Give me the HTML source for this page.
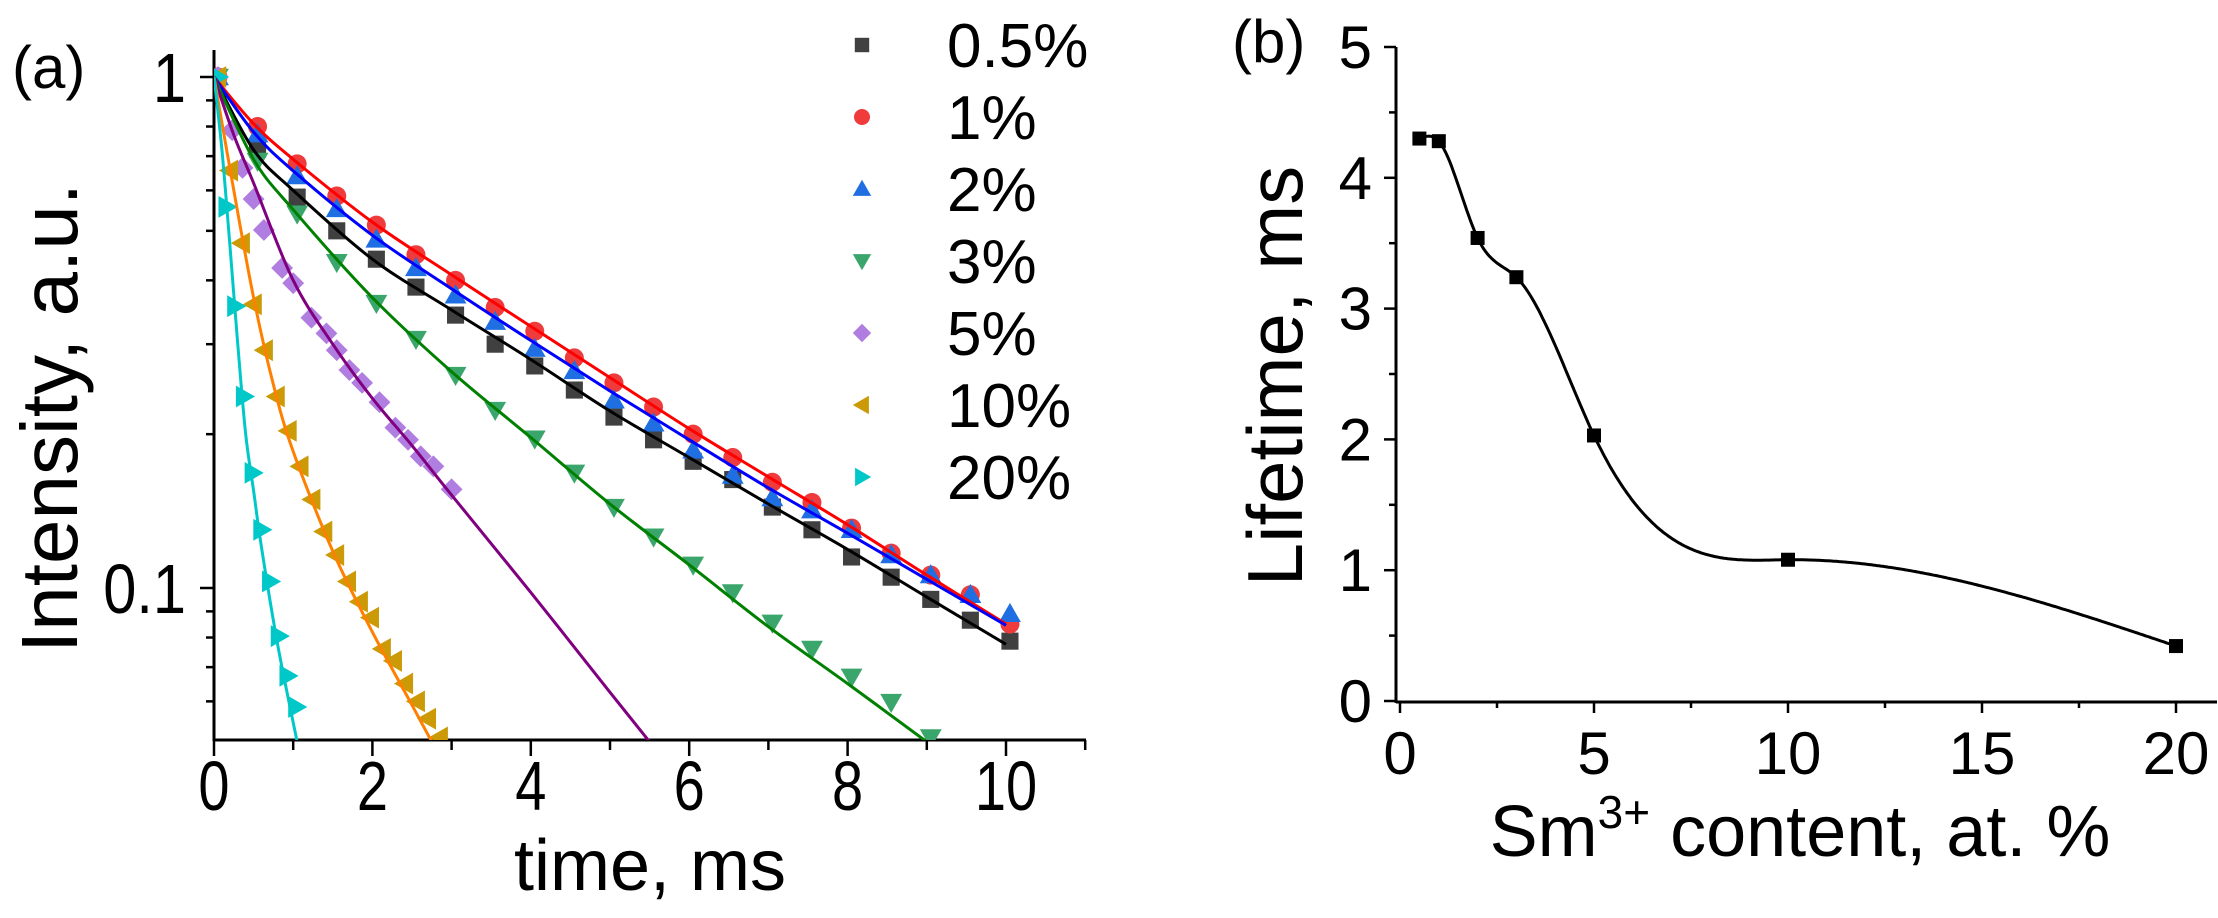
<!DOCTYPE html>
<html><head><meta charset="utf-8"><style>
html,body{margin:0;padding:0;background:#fff;}
svg{display:block;font-family:"Liberation Sans",Arial,sans-serif;}
</style></head><body>
<svg id="fig" width="2218" height="918" viewBox="0 0 2218 918">
<defs><clipPath id="clipA"><rect x="214" y="30" width="880" height="710"/></clipPath></defs>
<g id="panelA"></g>
<g id="panelB"></g>
</svg>
<script>
// ---------- Panel (a) data ----------
const seriesLabels = ["0.5%","1%","2%","3%","5%","10%","20%"];
const t05 = [0.05,0.55,1.05,1.55,2.05,2.55,3.05,3.55,4.05,4.55,5.05,5.55,6.05,6.55,7.05,7.55,8.05,8.55,9.05,9.55,10.05];
const v05 = [1.0,0.723,0.582,0.50,0.44,0.388,0.342,0.30,0.272,0.244,0.216,0.195,0.177,0.163,0.144,0.130,0.115,0.105,0.095,0.0865,0.0787];
const t1 = [0.05,0.55,1.05,1.55,2.05,2.55,3.05,3.55,4.05,4.55,5.05,5.55,6.05,6.55,7.05,7.55,8.05,8.55,9.05,9.55,10.05];
const v1 = [1.0,0.80,0.676,0.585,0.513,0.449,0.40,0.354,0.318,0.282,0.252,0.226,0.20,0.18,0.161,0.147,0.131,0.117,0.106,0.097,0.085];
const t2 = [0.05,0.55,1.05,1.55,2.05,2.55,3.05,3.55,4.05,4.55,5.05,5.55,6.05,6.55,7.05,7.55,8.05,8.55,9.05,9.55,10.05];
const v2 = [1.0,0.773,0.64,0.552,0.481,0.423,0.374,0.332,0.294,0.266,0.233,0.21,0.186,0.166,0.15,0.142,0.13,0.116,0.106,0.097,0.089];
const t3 = [0.05,0.55,1.05,1.55,2.05,2.55,3.05,3.55,4.05,4.55,5.05,5.55,6.05,6.55,7.05,7.55,8.05,8.55,9.05];
const v3 = [1.0,0.685,0.54,0.434,0.361,0.307,0.261,0.223,0.196,0.168,0.144,0.126,0.111,0.098,0.0855,0.076,0.067,0.0598,0.051];
const t5 = [0.05,0.23,0.36,0.5,0.63,0.86,1.0,1.23,1.42,1.55,1.71,1.87,2.09,2.29,2.45,2.61,2.77,3.0];
const v5 = [1.0,0.787,0.664,0.577,0.502,0.423,0.395,0.338,0.315,0.292,0.267,0.252,0.231,0.206,0.195,0.181,0.173,0.156];
const t10 = [0.05,0.2,0.35,0.5,0.64,0.79,0.94,1.09,1.24,1.39,1.54,1.69,1.84,1.98,2.13,2.27,2.41,2.56,2.70,2.85];
const v10 = [1.0,0.656,0.473,0.359,0.292,0.237,0.203,0.173,0.149,0.129,0.116,0.103,0.094,0.0875,0.076,0.072,0.065,0.060,0.0555,0.051];
const t20 = [0.05,0.16,0.27,0.38,0.49,0.6,0.71,0.82,0.93,1.04];
const v20 = [1.0,0.557,0.356,0.237,0.168,0.13,0.103,0.0805,0.0673,0.0585];
// fit curves
const ft05 = [0,0.5,1,2,3,4,5,6,7,8,9,10];
const fv05 = [1,0.72,0.6,0.44,0.35,0.28,0.222,0.18,0.146,0.119,0.096,0.0776];
const ft1 = [0,0.5,1,2,3,4,5,6,7,8,9,10];
const fv1 = [1,0.81,0.69,0.52,0.41,0.325,0.258,0.205,0.165,0.133,0.106,0.085];
const ft2 = [0,0.5,1,2,3,4,5,6,7,8,9,10];
const fv2 = [1,0.78,0.655,0.49,0.385,0.305,0.243,0.195,0.157,0.128,0.104,0.0845];
const ft3 = [0,0.5,1,2,3,4,5,6,7,8,9];
const fv3 = [1,0.69,0.55,0.37,0.265,0.197,0.146,0.111,0.084,0.065,0.05];
const ft5 = [0,0.25,0.5,1,1.5,2,2.5,3,4,5,5.5];
const fv5 = [1,0.77,0.62,0.4,0.3,0.235,0.19,0.152,0.098,0.0625,0.05];
const ft10 = [0,0.25,0.5,0.75,1,1.5,2,2.5,2.75];
const fv10 = [1,0.6,0.37,0.25,0.185,0.118,0.082,0.059,0.05];
const ft20 = [0,0.1,0.2,0.3,0.4,0.5,0.6,0.8,1.05];
const fv20 = [1,0.72,0.47,0.3,0.2,0.155,0.12,0.078,0.05];
const xTicksA = [0,2,4,6,8,10];
// ---------- Panel (b) data ----------
const contentX = [0.5,1,2,3,5,10,20];
const lifetimeY = [4.3,4.28,3.54,3.24,2.03,1.08,0.42];
const xTicksB = [0,5,10,15,20];
const yTicksB = [0,1,2,3,4,5];

const NS="http://www.w3.org/2000/svg";
function mk(parent,tag,attrs,name,inter){const e=document.createElementNS(NS,tag);for(const k in attrs)e.setAttribute(k,attrs[k]);


parent.appendChild(e);return e;}
function smooth(pts){let d="M"+pts[0][0]+","+pts[0][1];for(let i=0;i<pts.length-1;i++){const p0=pts[i-1]||pts[i],p1=pts[i],p2=pts[i+1],p3=pts[i+2]||p2;
const c1x=p1[0]+(p2[0]-p0[0])/6,c1y=p1[1]+(p2[1]-p0[1])/6,c2x=p2[0]-(p3[0]-p1[0])/6,c2y=p2[1]-(p3[1]-p1[1])/6;
d+=` C${c1x},${c1y} ${c2x},${c2y} ${p2[0]},${p2[1]}`;}return d;}
function naturalSpline(xs,ys){const n=xs.length,h=[],al=[],l=[1],mu=[0],z=[0],c=new Array(n).fill(0),b=[],d=[];
 for(let i=0;i<n-1;i++)h.push(xs[i+1]-xs[i]);
 for(let i=1;i<n-1;i++)al[i]=3/h[i]*(ys[i+1]-ys[i])-3/h[i-1]*(ys[i]-ys[i-1]);
 for(let i=1;i<n-1;i++){l[i]=2*(xs[i+1]-xs[i-1])-h[i-1]*mu[i-1];mu[i]=h[i]/l[i];z[i]=(al[i]-h[i-1]*z[i-1])/l[i];}
 for(let j=n-2;j>=0;j--){c[j]=(j<n-1&&j>0?z[j]:0)-mu[j]*c[j+1];if(j===0)c[0]=0;b[j]=(ys[j+1]-ys[j])/h[j]-h[j]*(c[j+1]+2*c[j])/3;d[j]=(c[j+1]-c[j])/(3*h[j]);}
 return x=>{let i=0;while(i<n-2&&x>xs[i+1])i++;const dx=x-xs[i];return ys[i]+b[i]*dx+c[i]*dx*dx+d[i]*dx*dx*dx;};}

// ---------- Panel A ----------
const A=document.getElementById('panelA');
const ax=t=>214+79.2*t, ay=v=>77-511*Math.log10(v);
mk(A,'line',{x1:214,y1:740,x2:1086,y2:740,stroke:'#000','stroke-width':3},'x-axis-a',false);
mk(A,'line',{x1:214,y1:50,x2:214,y2:741,stroke:'#000','stroke-width':3},'y-axis-a',false);
for(let i=0;i<=11;i++){const x=ax(i);mk(A,'line',{x1:x,y1:740,x2:x,y2:i%2?750:756,stroke:'#000','stroke-width':2.5},'x-tick-a',false);}
xTicksA.forEach(v=>{const tx=mk(A,'text',{x:0,y:0,'font-size':70,'text-anchor':'middle',transform:`translate(${ax(v)},810) scale(0.8,1)`},'x-tick-label-a',false);tx.textContent=v;});
const yMaj=[1,0.1],yMin=[0.06,0.07,0.08,0.09,0.2,0.3,0.4,0.5,0.6,0.7,0.8,0.9];
yMaj.forEach(v=>mk(A,'line',{x1:200,y1:ay(v),x2:214,y2:ay(v),stroke:'#000','stroke-width':2.5},'y-tick-a',false));
yMin.forEach(v=>mk(A,'line',{x1:206,y1:ay(v),x2:214,y2:ay(v),stroke:'#000','stroke-width':2.5},'y-minor-tick-a',false));
[["1",1],["0.1",0.1]].forEach(([s,v])=>{const tx=mk(A,'text',{x:0,y:0,'font-size':70,'text-anchor':'end',transform:`translate(186,${ay(v)+25}) scale(0.85,1)`},'y-tick-label-a',false);tx.textContent=s;});
let t=mk(A,'text',{x:650,y:890,'font-size':72,'text-anchor':'middle'},'x-axis-title-a',false);t.textContent="time, ms";
t=mk(A,'text',{x:0,y:0,'font-size':80,'text-anchor':'middle',transform:'translate(77,418) rotate(-90)'},'y-axis-title-a',false);t.textContent="Intensity, a.u.";
t=mk(A,'text',{x:12,y:88,'font-size':60},'panel-label-a',false);t.textContent="(a)";

const mColors=['#404040','#ef3b3b','#1f6fe3','#3aa66b','#b07ee0','#cc9a06','#00c8c8'];
const lColors=['#000','#ff0000','#0000ff','#008000','#800080','#ff8000','#00c8c8'];
const shapes=['square','circle','up','down','diamond','left','right'];
const ts=[t05,t1,t2,t3,t5,t10,t20],vs=[v05,v1,v2,v3,v5,v10,v20];
const fts=[ft05,ft1,ft2,ft3,ft5,ft10,ft20],fvs=[fv05,fv1,fv2,fv3,fv5,fv10,fv20];
function marker(g,shape,x,y,c,s,name){
 if(shape==='square')return mk(g,'rect',{x:x-s*0.9,y:y-s*0.9,width:s*1.8,height:s*1.8,fill:c},name,false);
 if(shape==='circle')return mk(g,'circle',{cx:x,cy:y,r:s,fill:c},name,false);
 let p;const r=s*1.15;
 if(shape==='up')p=[[x,y-r],[x+r,y+r*0.75],[x-r,y+r*0.75]];
 if(shape==='down')p=[[x,y+r],[x+r,y-r*0.75],[x-r,y-r*0.75]];
 if(shape==='left')p=[[x-r,y],[x+r*0.75,y-r],[x+r*0.75,y+r]];
 if(shape==='right')p=[[x+r,y],[x-r*0.75,y-r],[x-r*0.75,y+r]];
 if(shape==='diamond')p=[[x,y-r],[x+r,y],[x,y+r],[x-r,y]];
 return mk(g,'polygon',{points:p.map(q=>q.join(',')).join(' '),fill:c},name,false);}
const plotG=mk(A,'g',{'clip-path':'url(#clipA)'},'plot-area-a',false);
const order=[0,1,2,3,4,5,6];
order.forEach(i=>{
 const sg=mk(plotG,'g',{},'series-'+seriesLabels[i].replace('%','pct').replace('.','_'),false);
 ts[i].forEach((tt,j)=>marker(sg,shapes[i],ax(tt),ay(vs[i][j]),mColors[i],9.5,'data-point'));
});
order.forEach(i=>{
 const pts=fts[i].map((tt,j)=>[ax(tt),ay(fvs[i][j])]);
 mk(plotG,'path',{d:smooth(pts),fill:'none',stroke:lColors[i],'stroke-width':3},'fit-line-'+seriesLabels[i].replace('%','pct').replace('.','_'),false);
});
// legend
const LG=mk(A,'g',{},'legend',false);
seriesLabels.forEach((s,i)=>{const y=45+72*i;
 const e=mk(LG,'g',{},'legend-entry',false);
 marker(e,shapes[i],862,y,mColors[i],8,'legend-marker');
 const tx=mk(e,'text',{x:947,y:y+22,'font-size':62},'legend-label',false);tx.textContent=s;});

// ---------- Panel B ----------
const B=document.getElementById('panelB');
const bx=v=>1400+38.8*v, by=v=>701-130.8*v;
mk(B,'line',{x1:1396,y1:702,x2:2217,y2:702,stroke:'#000','stroke-width':3},'x-axis-b',false);
mk(B,'line',{x1:1396,y1:47,x2:1396,y2:703,stroke:'#000','stroke-width':3},'y-axis-b',false);
for(let v=0;v<=20;v+=2.5){mk(B,'line',{x1:bx(v),y1:702,x2:bx(v),y2:v%5?708:713,stroke:'#000','stroke-width':2.5},'x-tick-b',false);}
for(let v=0;v<=5;v+=0.5){mk(B,'line',{x1:v%1?1389:1384,y1:by(v),x2:1396,y2:by(v),stroke:'#000','stroke-width':2.5},'y-tick-b',false);}
xTicksB.forEach(v=>{const tx=mk(B,'text',{x:bx(v),y:774,'font-size':60,'text-anchor':'middle'},'x-tick-label-b',false);tx.textContent=v;});
yTicksB.forEach(v=>{const tx=mk(B,'text',{x:1372,y:by(v)+21,'font-size':60,'text-anchor':'end'},'y-tick-label-b',false);tx.textContent=v;});
t=mk(B,'text',{x:1800,y:856,'font-size':72,'text-anchor':'middle'},'x-axis-title-b',false);
t.innerHTML='Sm<tspan dy="-28" font-size="46">3+</tspan><tspan dy="28"> content, at. %</tspan>';
t=mk(B,'text',{x:0,y:0,'font-size':78,'text-anchor':'middle',transform:'translate(1302,376) rotate(-90)'},'y-axis-title-b',false);t.textContent="Lifetime, ms";
t=mk(B,'text',{x:1232,y:62,'font-size':60},'panel-label-b',false);t.textContent="(b)";
const sp=naturalSpline(contentX,lifetimeY);
const bp=[];for(let k=0;k<=400;k++){const xv=contentX[0]+(contentX[contentX.length-1]-contentX[0])*k/400;bp.push((k?'L':'M')+bx(xv).toFixed(1)+','+by(sp(xv)).toFixed(1));}
mk(B,'path',{d:bp.join(' '),fill:'none',stroke:'#000','stroke-width':3},'lifetime-curve',false);
contentX.forEach((v,i)=>mk(B,'rect',{x:bx(v)-7,y:by(lifetimeY[i])-7,width:14,height:14,fill:'#000'},'lifetime-point',false));
</script>
</body></html>
